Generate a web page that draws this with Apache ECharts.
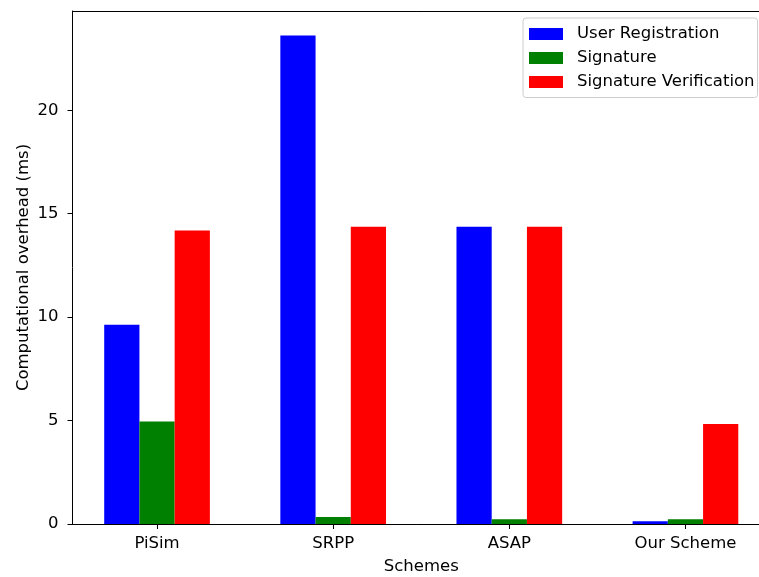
<!DOCTYPE html>
<html>
<head>
<meta charset="utf-8">
<script src="https://cdn.jsdelivr.net/npm/echarts@6/dist/echarts.min.js"></script>
<style>
  html, body { margin: 0; padding: 0; background: #fff; }
  #bar { width: 759px; height: 577px; }
</style>
</head>
<body>
<div id="bar"></div>
<script>
const categories = ['PiSim', 'SRPP', 'ASAP', 'Our Scheme']
const userRegistration = [9.63, 23.62, 14.37, 0.13]
const signature = [4.95, 0.34, 0.23, 0.23]
const signatureVerification = [14.19, 14.37, 14.37, 4.84]
const yTicks = [0, 5, 10, 15, 20]

const font = 'DejaVu Sans'
const fontSize = 16.5
const xMin = -0.48
const xMax = 3.48
const gridLeft = 72.5
const gridWidth = 697.5
const barWidthUnits = 0.2 // matplotlib bar width
const barPx = (barWidthUnits * gridWidth) / (xMax - xMin)

// groups of 3 bars around each category index
function place(values, offset) {
  return values.map((v, i) => [i + offset, v])
}

function makeSeries(name, color, values, offset) {
  return {
    name: name,
    type: 'bar',
    data: place(values, offset),
    barWidth: barPx,
    barGap: '-100%',
    itemStyle: { color: color },
    animation: false
  }
}

const chart = echarts.init(document.getElementById('bar'), null, { renderer: 'canvas' })
chart.setOption({
  textStyle: { fontFamily: font },
  grid: {
    left: gridLeft,
    top: 11,
    width: gridWidth,
    bottom: 53,
    containLabel: false,
    outerBoundsMode: 'none'
  },
  legend: {
    orient: 'vertical',
    left: 523,
    top: 18,
    padding: [7.5, 3, 7, 6],
    itemGap: 7,
    itemWidth: 34,
    itemHeight: 12,
    icon: 'rect',
    borderColor: '#cccccc',
    borderWidth: 1,
    borderRadius: 3,
    backgroundColor: 'rgba(255,255,255,0.8)',
    textStyle: { fontFamily: font, fontSize: fontSize, lineHeight: 17, color: '#000', padding: [0, 0, 0, 9] },
    data: ['User Registration', 'Signature', 'Signature Verification']
  },
  xAxis: [
    {
      type: 'value',
      min: xMin,
      max: xMax,
      name: 'Schemes',
      nameLocation: 'middle',
      nameGap: 34,
      nameTextStyle: { fontFamily: font, fontSize: fontSize, color: '#000' },
      axisLine: { show: true, onZero: false, lineStyle: { color: '#000', width: 1 } },
      axisTick: { show: true, inside: false, length: 5, customValues: [0, 1, 2, 3], lineStyle: { color: '#000' } },
      axisLabel: {
        customValues: [0, 1, 2, 3],
        formatter: (v) => categories[Math.round(v)],
        fontFamily: font,
        fontSize: fontSize,
        color: '#000',
        margin: 11
      },
      splitLine: { show: false }
    },
    {
      // top spine only
      type: 'value',
      position: 'top',
      min: xMin,
      max: xMax,
      axisLine: { show: true, onZero: false, lineStyle: { color: '#000', width: 1 } },
      axisTick: { show: false },
      axisLabel: { show: false },
      splitLine: { show: false }
    }
  ],
  yAxis: {
    type: 'value',
    min: 0,
    max: 24.8,
    name: 'Computational overhead (ms)',
    nameLocation: 'middle',
    nameGap: 40,
    nameMoveOverlap: false,
    nameTextStyle: { fontFamily: font, fontSize: fontSize, color: '#000' },
    axisLine: { show: true, onZero: false, lineStyle: { color: '#000', width: 1 } },
    axisTick: { show: true, inside: false, length: 5, customValues: yTicks, lineStyle: { color: '#000' } },
    axisLabel: {
      customValues: yTicks,
      fontFamily: font,
      fontSize: fontSize,
      color: '#000',
      margin: 14
    },
    splitLine: { show: false }
  },
  series: [
    makeSeries('User Registration', '#0000ff', userRegistration, -barWidthUnits),
    makeSeries('Signature', '#008000', signature, 0),
    makeSeries('Signature Verification', '#ff0000', signatureVerification, barWidthUnits)
  ]
})
</script>
</body>
</html>
